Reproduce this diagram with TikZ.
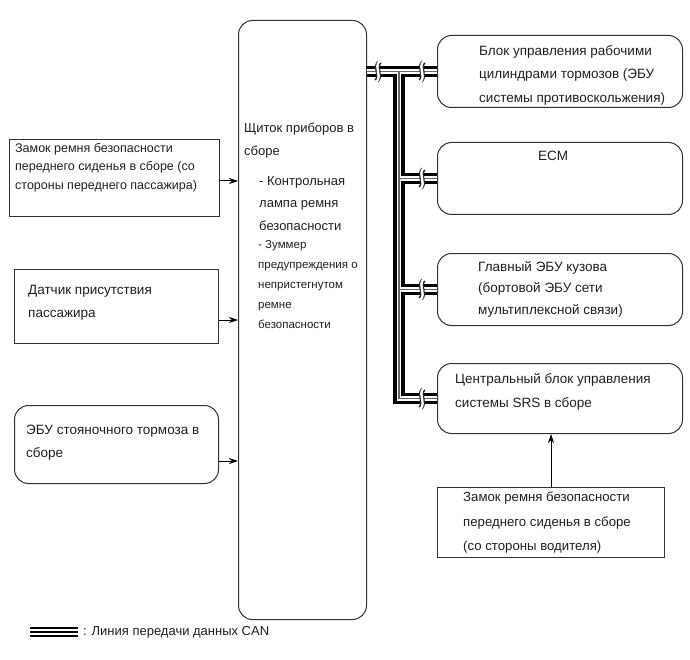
\documentclass[tikz,border=0pt]{standalone}
\usepackage{fontspec}
\setmainfont{Liberation Sans}
\usetikzlibrary{arrows.meta,calc}
\begin{document}
\begin{tikzpicture}[x=1pt,y=-1pt,
  box/.style={draw=black!80, line width=1pt, inner sep=0pt, anchor=north west},
  rbox/.style={box, rounded corners=14pt},
  txt/.style={anchor=north west, inner sep=0pt, align=left, text=black!88},
  fa/.style={font=\fontsize{12.5}{18.5}\selectfont},
  fb/.style={font=\fontsize{13}{23}\selectfont},
  fr/.style={font=\fontsize{13.5}{23}\selectfont},
  fc/.style={font=\fontsize{11.5}{20}\selectfont},
  arr/.style={draw=black, line width=1pt, -{Stealth[length=9pt,width=6pt]}},
  brk/.pic={
    \draw[line width=4.8pt, black!85] (1.5,-9.5) .. controls (-4.5,-3) and (4.5,3) .. (-1.5,9.5);
    \draw[line width=2.4pt, white] (1.5,-10.5) .. controls (-4.5,-3) and (4.5,3) .. (-1.5,10.5);
  }
]
\useasboundingbox (0,0) rectangle (690,660);

% boxes
\node[box, minimum width=210pt, minimum height=77pt] (l1) at (9,139) {};
\node[box, minimum width=204pt, minimum height=74pt] (l2) at (14,269) {};
\node[rbox, minimum width=204pt, minimum height=78pt] (l3) at (14,405) {};
\node[rbox, minimum width=128pt, minimum height=599pt] (c) at (238,20) {};
\node[rbox, minimum width=245pt, minimum height=72pt] (r1) at (437,35) {};
\node[rbox, minimum width=245pt, minimum height=72pt] (r2) at (437,142) {};
\node[rbox, minimum width=245pt, minimum height=72pt] (r3) at (437,253) {};
\node[rbox, minimum width=245pt, minimum height=70pt] (r4) at (437,363) {};
\node[box, minimum width=227pt, minimum height=70pt] (b) at (437,487) {};

% texts
\node[txt, fa] (l1t) at (15,143) {Замок ремня безопасности\\переднего сиденья в сборе (со\\стороны переднего пассажира)};
\node[txt, fr] (l2t) at (28,285) {Датчик присутствия\\пассажира};
\node[txt, fr] (l3t) at (26,425) {ЭБУ стояночного тормоза в\\сборе};
\node[txt, fb] (ct1) at (244,123) {Щиток приборов в\\сборе};
\node[txt, fb, font=\fontsize{13}{22.5}\selectfont] (ct2) at (259,176) {- Контрольная\\лампа ремня\\безопасности};
\node[txt, fc] (ct3) at (258,240) {- Зуммер\\предупреждения о\\непристегнутом\\ремне\\безопасности};
\node[txt, fr, font=\fontsize{13.5}{23.5}\selectfont] (r1t) at (479,45) {Блок управления рабочими\\цилиндрами тормозов (ЭБУ\\системы противоскольжения)};
\node[txt, fr, anchor=north] (r2t) at (553,151) {ECM};
\node[txt, fr, font=\fontsize{13.5}{21.5}\selectfont] (r3t) at (478,261) {Главный ЭБУ кузова\\(бортовой ЭБУ сети\\мультиплексной связи)};
\node[txt, fr, font=\fontsize{13.5}{24}\selectfont] (r4t) at (455,373) {Центральный блок управления\\системы SRS в сборе};
\node[txt, fb, font=\fontsize{13.2}{24.5}\selectfont] (bt) at (463,492) {Замок ремня безопасности\\переднего сиденья в сборе\\(со стороны водителя)};

% arrows
\coordinate (a1) at (0,181);
\coordinate (a2) at (0,320);
\coordinate (a3) at (0,461);
\draw[arr] (l1.east |- a1) -- (c.west |- a1);
\draw[arr] (l2.east |- a2) -- (c.west |- a2);
\draw[arr] (l3.east |- a3) -- (c.west |- a3);
\draw[arr] (b.north) -- (b.north |- r4.south);

% CAN bus
\coordinate (jx) at (399,0);
\coordinate (jt) at (r1.west -| jx);
\foreach \w/\col in {11.5pt/black, 4.4pt/white, 1.6pt/black!60} {
  \draw[line width=\w, draw=\col] (r1.west -| c.east) -- (r1.west)
    (jt) |- (r4.west)
    (jt |- r2.west) -- (r2.west)
    (jt |- r3.west) -- (r3.west);
}
\coordinate (k1) at (378,0);
\coordinate (k2) at (422,0);
\pic at (k1 |- r1.west) {brk};
\pic at (k2 |- r1.west) {brk};
\pic at (k2 |- r2.west) {brk};
\pic at (k2 |- r3.west) {brk};
\pic at (k2 |- r4.west) {brk};

% legend
\coordinate (g1) at (30,632);
\coordinate (g2) at (78,632);
\foreach \w/\col in {10.5pt/black, 6pt/white, 2pt/black} {
  \draw[line width=\w, draw=\col] (g1) -- (g2);
}
\node[txt, fb, anchor=west] (gt) at (83,632) {: Линия передачи данных CAN};
\end{tikzpicture}
\end{document}
